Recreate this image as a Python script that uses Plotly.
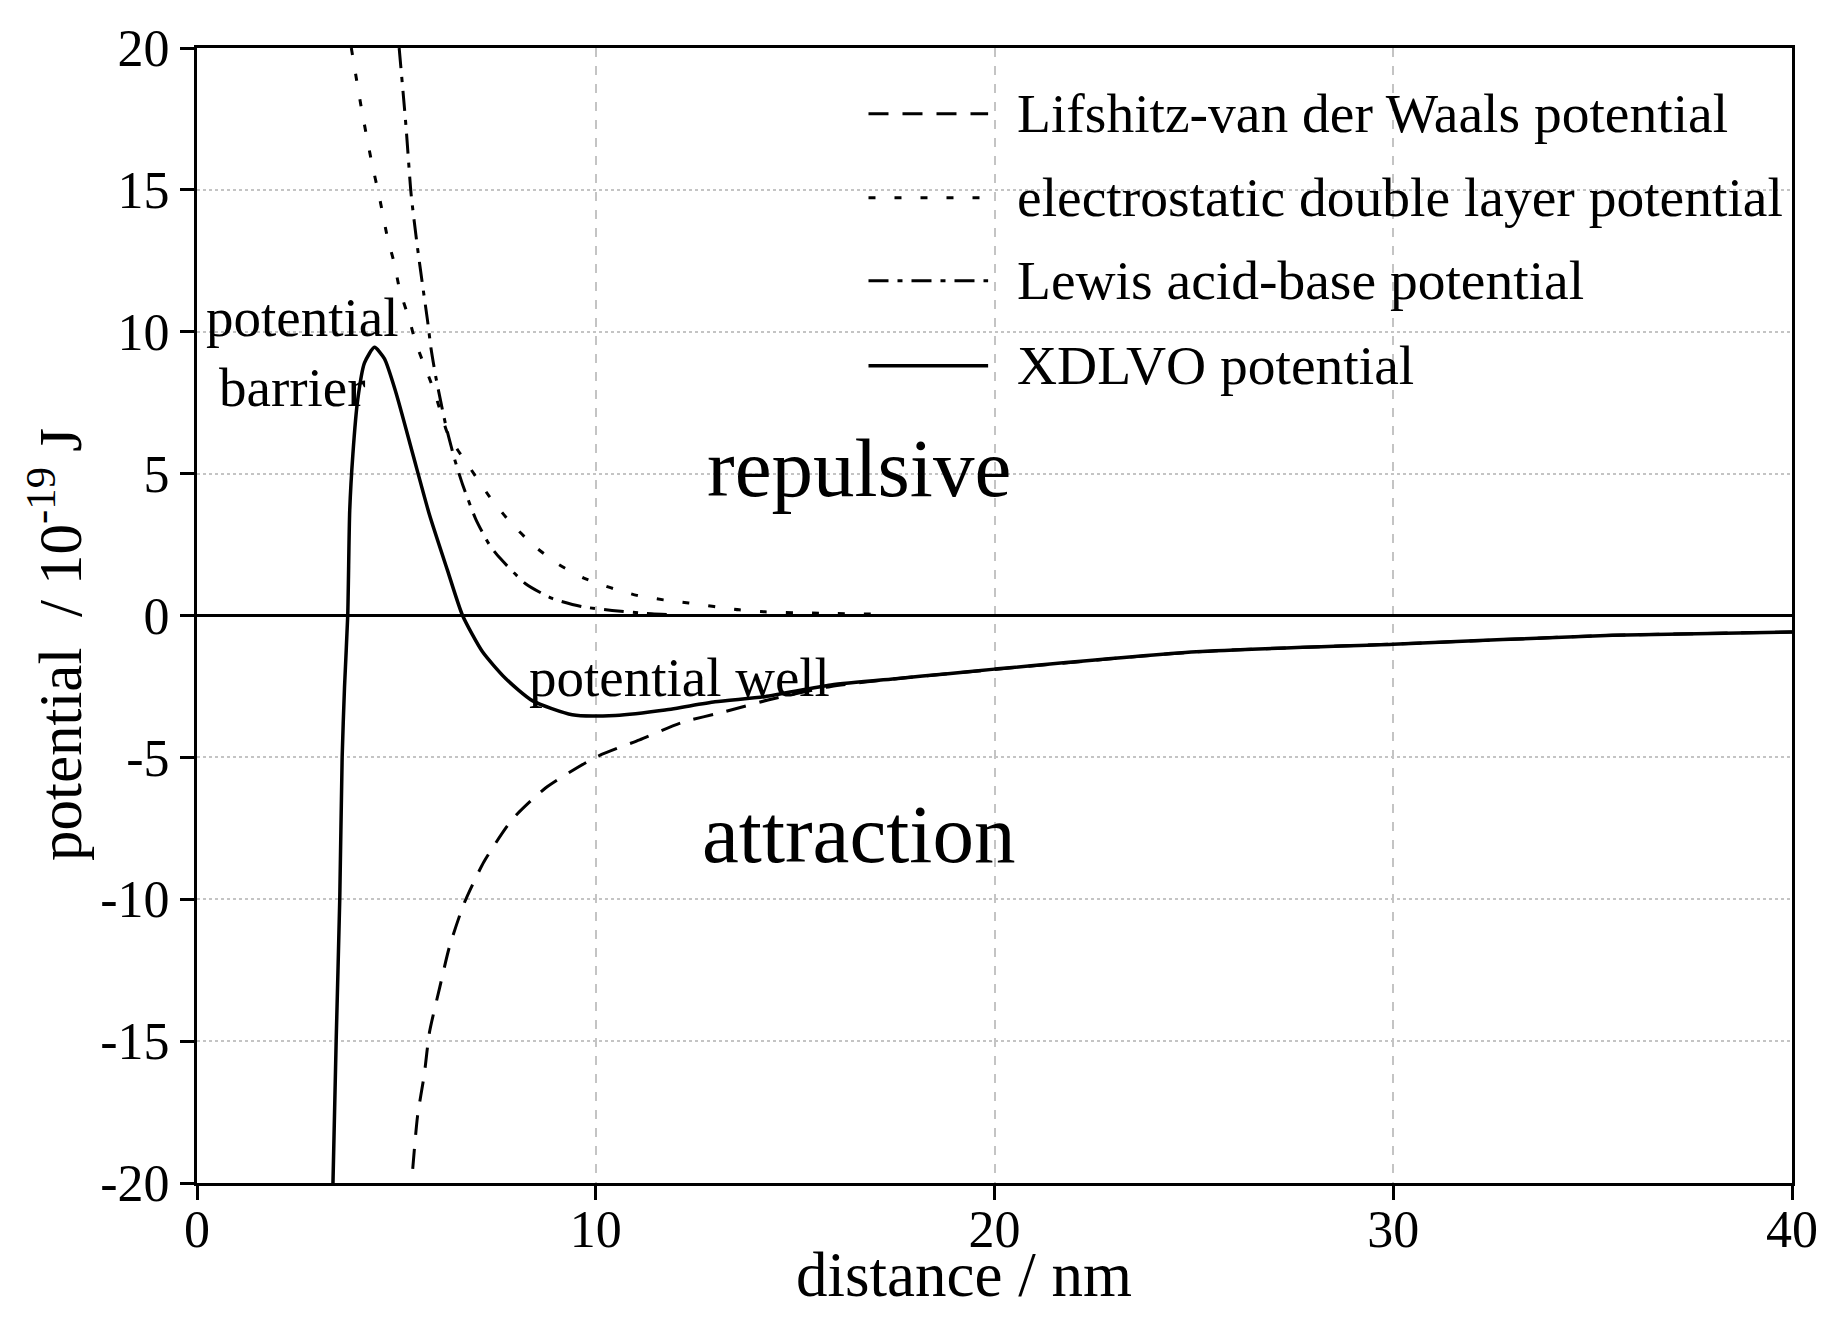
import plotly.graph_objects as go

# distance (nm) / potential (1e-19 J)
lw_x = [5.41, 5.53, 5.70, 5.83, 6.08, 6.33, 6.70, 7.20, 7.91, 8.74, 9.99,
        11.1, 12.16, 13.24, 14.32, 15.9, 17.58, 20.0, 25.06, 30.0, 35.5, 40.0]
lw_y = [-19.5, -17.65, -16.17, -14.69, -13.15, -11.68, -10.14, -8.67, -7.18,
        -6.08, -5.0, -4.38, -3.77, -3.39, -2.98, -2.5, -2.22, -1.9, -1.28,
        -1.01, -0.70, -0.58]

el_x = [3.87, 4.12, 4.37, 4.58, 4.78, 4.95, 5.08, 5.33, 5.49, 5.95, 6.28,
        6.53, 6.87, 7.33, 7.83, 8.45, 9.08, 9.70, 10.37, 11.03, 11.7, 12.33,
        13.6, 14.24, 15.6, 17.0]
el_y = [20.0, 17.9, 16.05, 14.7, 13.3, 12.4, 11.5, 10.4, 9.6, 7.9, 6.43,
        5.85, 5.15, 4.2, 3.33, 2.46, 1.79, 1.32, 0.98, 0.71, 0.55, 0.44,
        0.2, 0.13, 0.08, 0.05]

ab_x = [5.07, 5.24, 5.37, 5.53, 5.66, 5.78, 5.87, 5.99, 6.24, 6.45, 6.66,
        6.99, 7.33, 7.58, 8.24, 8.91, 9.66, 10.41, 11.4, 12.0]
ab_y = [20.0, 17.26, 14.84, 12.96, 11.61, 10.41, 9.4, 8.4, 6.7, 5.56, 4.62,
        3.40, 2.5, 2.05, 1.12, 0.6, 0.31, 0.18, 0.06, 0.03]

xdlvo_x = [3.41, 3.49, 3.58, 3.64, 3.70, 3.78, 3.83, 3.91, 4.03, 4.20, 4.45,
           4.70, 4.99, 5.41, 5.83, 6.28, 6.66, 7.16, 7.74, 8.41, 9.41, 10.49,
           11.74, 12.99, 14.24, 15.9, 17.58, 18.83, 20.0, 25.06, 30.0, 35.5,
           40.0]
xdlvo_y = [-20.0, -15.0, -10.0, -5.0, -2.5, 0.0, 3.7, 5.7, 7.6, 8.9, 9.45,
           9.05, 7.85, 5.7, 3.55, 1.6, 0.0, -1.28, -2.22, -3.0, -3.5, -3.52,
           -3.33, -3.04, -2.86, -2.45, -2.22, -2.05, -1.89, -1.28, -1.01,
           -0.70, -0.58]

series_names = ["Lifshitz-van der Waals potential",
                "electrostatic double layer potential",
                "Lewis acid-base potential",
                "XDLVO potential"]

x_ticks = [0, 10, 20, 30, 40]
y_ticks = [-20, -15, -10, -5, 0, 5, 10, 15, 20]
y_tick_text = [str(v) for v in y_ticks]  # plain hyphen minus like the original

FONT = "Liberation Serif, Times New Roman, serif"

dashes = ["20px,14px", "7px,19px", "20px,9px,5px,9px", "solid"]
widths = [3, 3, 3, 3.5]

fig = go.Figure()
data = [(lw_x, lw_y), (el_x, el_y), (ab_x, ab_y), (xdlvo_x, xdlvo_y)]
for (xs, ys), name, dash, w in zip(data, series_names, dashes, widths):
    fig.add_trace(go.Scatter(x=xs, y=ys, mode="lines", name=name,
                             line=dict(color="black", width=w, dash=dash,
                                       shape="spline", smoothing=0.6),
                             showlegend=False))

# hand-made legend so the key lines are long like in the original
leg_x0, leg_x1, leg_text_x = 0.421, 0.496, 0.513
leg_rows = [0.942, 0.868, 0.795, 0.720]
for name, dash, w, ry in zip(series_names, dashes, widths, leg_rows):
    fig.add_shape(type="line", xref="paper", yref="paper",
                  x0=leg_x0, x1=leg_x1, y0=ry, y1=ry,
                  line=dict(color="black", width=w, dash=dash))
    fig.add_annotation(xref="paper", yref="paper", x=leg_text_x, y=ry,
                       text=name, showarrow=False, xanchor="left",
                       yanchor="middle", font=dict(size=55.5, color="black"))

# region labels
labels = [("repulsive", 16.6, 5.2, 83),
          ("attraction", 16.6, -7.7, 83),
          ("potential well", 12.1, -2.2, 55),
          ("potential", 2.63, 10.5, 55),
          ("barrier", 2.4, 8.05, 55)]
for txt, lx, ly, size in labels:
    fig.add_annotation(x=lx, y=ly, text=txt, showarrow=False,
                       xanchor="center", yanchor="middle",
                       font=dict(size=size, color="black"))

# axis titles as annotations for finer placement
fig.add_annotation(xref="paper", yref="paper", x=-0.089, y=0.474,
                   text="potential  / 10<sup>-19</sup> J", textangle=-90,
                   showarrow=False, xanchor="center", yanchor="middle",
                   font=dict(size=61, color="black"))
fig.add_annotation(xref="paper", yref="paper", x=0.481, y=-0.081,
                   text="distance / nm", showarrow=False,
                   xanchor="center", yanchor="middle",
                   font=dict(size=63, color="black"))

axis_common = dict(showline=True, linecolor="black", linewidth=3,
                   mirror=True, ticks="outside", ticklen=14, tickwidth=3,
                   tickcolor="black", gridcolor="#c4c4c4", gridwidth=2,
                   tickfont=dict(size=52, color="black"))

# page body adds an 8px margin, so the figure is a bit smaller than the window
fig.update_layout(
    width=1822, height=1307,
    margin=dict(l=189, r=34, t=36, b=132),
    paper_bgcolor="white", plot_bgcolor="white",
    font=dict(family=FONT, color="black"),
    xaxis=dict(range=[0, 40], tickvals=x_ticks, griddash="dash",
               zeroline=False, ticklabelstandoff=-15, **axis_common),
    yaxis=dict(range=[-20, 20], tickvals=y_ticks, ticktext=y_tick_text,
               griddash="dot", zeroline=True, zerolinecolor="black",
               zerolinewidth=3, **axis_common),
)

fig.write_html("out.html")
